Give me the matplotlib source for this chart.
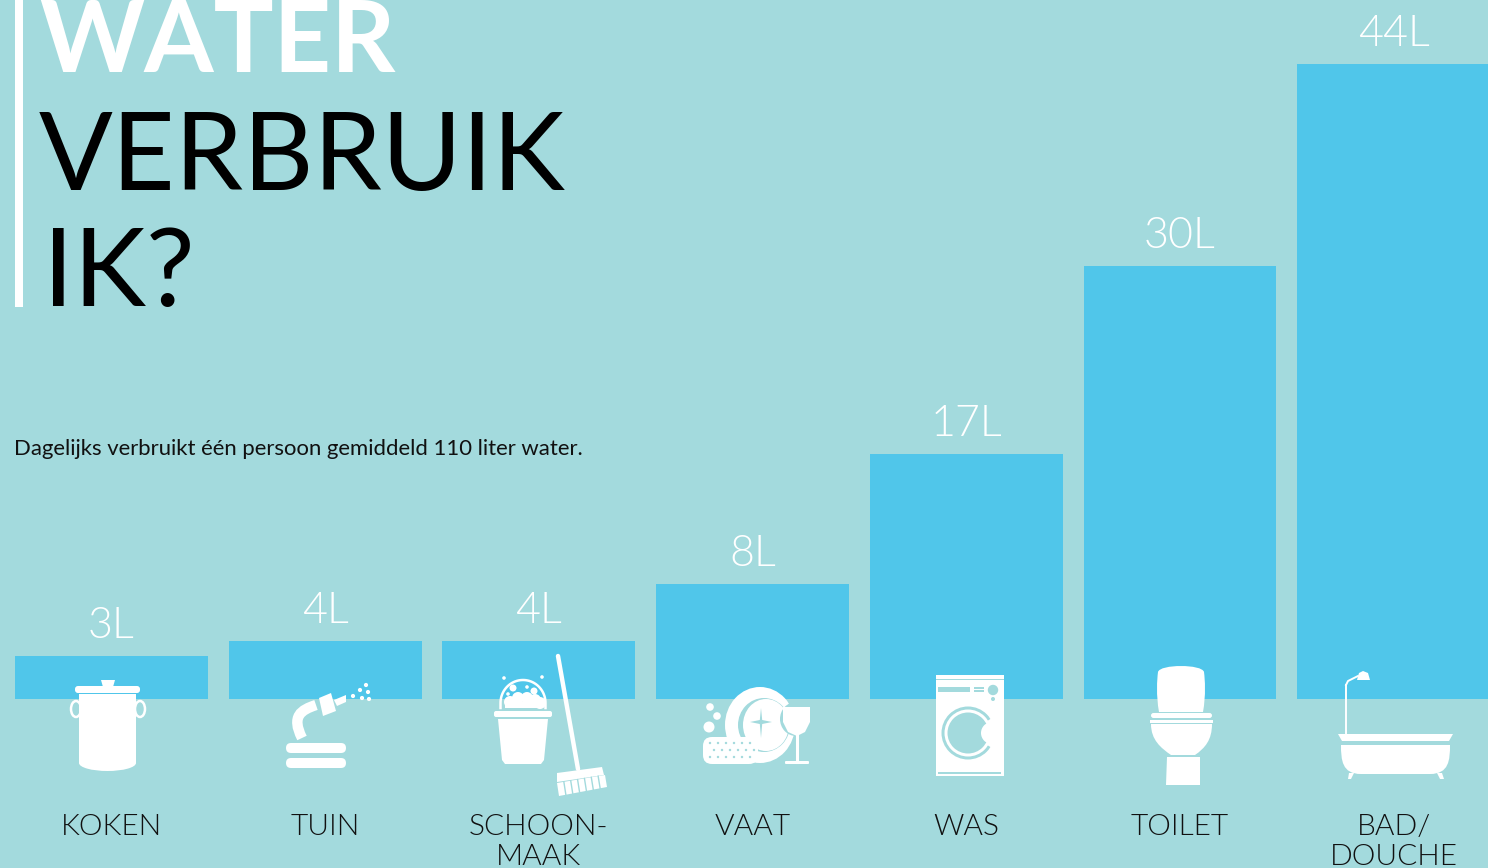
import numpy as np
from matplotlib import pyplot as plt
from matplotlib.patches import Ellipse, FancyBboxPatch, Polygon, Rectangle, Wedge, PathPatch
from matplotlib.path import Path

categories = ['KOKEN', 'TUIN', 'SCHOON-\nMAAK', 'VAAT', 'WAS', 'TOILET', 'BAD/\nDOUCHE']
litres = [3, 4, 4, 8, 17, 30, 44]
title_lines = ['WATER', 'VERBRUIK', 'IK?']
subtitle = 'Dagelijks verbruikt één persoon gemiddeld 110 liter water.'

BG = '#a3dadd'
BAR = '#50c6ea'
W = '#ffffff'

plt.rcParams['font.family'] = ['Lato', 'DejaVu Sans']

fig = plt.figure(figsize=(14.88, 8.68), dpi=100, facecolor=BG)

# bars, in litres. 213.7 px per category, 14.43 px per litre, baseline at y=699
ax = fig.add_axes([0, 0, 1, 1])
ax.set_xlim(-111.5 / 213.7, (1488 - 111.5) / 213.7)
ax.set_ylim(-169 / 14.43, 699 / 14.43)
ax.axis('off')
x = np.arange(len(categories))
bars = ax.bar(x, litres, width=0.903, color=BAR, linewidth=0)
for xi, v in zip(x, litres):
    ax.annotate(f'{v}L', (xi, v), xytext=(0, 13), textcoords='offset points', ha='center',
                va='baseline', color=W, fontsize=31, fontweight=300)
for xi, c in zip(x, categories):
    ax.annotate(c, (xi, 0), xytext=(0, -83), textcoords='offset points', ha='center', va='top',
                color='#111111', fontsize=21.5, fontweight=300, linespacing=1.16)

# overlay in image pixels for the title and the icons
ov = fig.add_axes([0, 0, 1, 1])
ov.set_xlim(0, 1488)
ov.set_ylim(868, 0)
ov.axis('off')
ov.patch.set_alpha(0)

ov.add_patch(Rectangle((15, 0), 8, 307, color=W, lw=0))
ov.text(39, 72, title_lines[0], color=W, fontsize=72, fontweight=700, va='baseline')
ov.text(39, 190, title_lines[1], color='black', fontsize=78.5, fontweight=400, va='baseline')
ov.text(43, 306, title_lines[2], color='black', fontsize=78.5, fontweight=400, va='baseline')
ov.text(14, 455, subtitle, color='#111111', fontsize=15.9, va='baseline')


def rbox(x0, y0, x1, y1, r, c=W):
    ov.add_patch(FancyBboxPatch((x0 + r, y0 + r), x1 - x0 - 2 * r, y1 - y0 - 2 * r,
                                boxstyle=f'round,pad={r},rounding_size={r}', fc=c, ec='none'))


def poly(pts, c=W):
    ov.add_patch(Polygon(pts, closed=True, fc=c, ec='none'))


def ell(cx, cy, rx, ry, c=W):
    ov.add_patch(Ellipse((cx, cy), 2 * rx, 2 * ry, fc=c, ec='none'))


def ring(cx, cy, rx, ry, lw, c=W):
    ov.add_patch(Ellipse((cx, cy), 2 * rx, 2 * ry, fc='none', ec=c, lw=lw))


def dots(pts, r, c=W):
    for px, py in pts:
        ell(px, py, r, r, c)


def curve(verts, codes, c=W):
    ov.add_patch(PathPatch(Path(verts, codes), fc=c, ec='none'))


M, L, C = Path.MOVETO, Path.LINETO, Path.CURVE4

# pot
ring(76, 709, 5, 8, 1.8)
ring(140, 709, 5, 8, 1.8)
poly([(101, 680), (115, 680), (113, 687), (103, 687)])
rbox(75, 686, 140, 693, 3)
ell(107.5, 763, 28.5, 8)
ov.add_patch(Rectangle((79, 694), 57, 69, fc=W, ec='none'))

# hose
rbox(286, 743, 346, 753, 5)
rbox(286, 758, 346, 768, 5)
ov.add_patch(PathPatch(Path([(302, 738), (291, 716), (301, 710), (316, 705)], [M, C, C, C]),
                       fc='none', ec=W, lw=7.5, capstyle='butt'))
poly([(319, 698), (331, 693), (336, 711), (323, 716)])
poly([(334, 700), (346, 695), (346, 702), (337, 706)])
dots([(353, 696), (360, 690), (366, 685), (368, 692), (362, 698), (369, 699)], 2.1)

# bucket and broom
t = np.linspace(np.pi, 2 * np.pi, 40)
ov.plot(np.r_[500.5, 523 + 22.5 * np.cos(t), 545.5], np.r_[708, 703 + 23 * np.sin(t), 708], color=W, lw=1.8)
dots([(510, 702), (518, 698), (527, 698), (535, 700), (540, 703)], 6)
ov.add_patch(Rectangle((505, 702), 36, 6, fc=W, ec='none'))
dots([(513, 688), (534, 691)], 3.5)
dots([(527, 687), (508, 694), (504, 678), (542, 677)], 1.8)
rbox(494, 711, 552, 717, 2)
poly([(498, 719), (548, 719), (544, 760), (541, 764), (505, 764), (502, 760)])
ov.plot([558, 578], [656, 769], color=W, lw=3.2, solid_capstyle='round')
poly([(557, 773), (602, 767), (604, 775), (557, 782)])
poly([(557, 783), (605, 775), (607, 787), (559, 796)])
for k in np.arange(1, 7):
    f = k / 7
    ov.plot([557 + 48 * f, 559 + 48 * f], [783 - 8 * f, 796 - 9 * f], color=BG, lw=1)

# dishes
ell(760, 725, 35, 38)
ell(764, 725, 26, 27, BG)
ell(766, 725, 23, 26)
poly([(761, 708), (762.2, 720), (772, 722), (762.2, 724), (761, 738), (759.8, 724), (750, 722), (759.8, 720)], BG)
rbox(703, 737, 758, 764, 9)
for row, dy in enumerate((743, 750, 757)):
    dots([(710 + (row % 2) * 4 + 8 * k, dy) for k in range(6)], 1.2, BG)
dots([(710, 707), (717, 716)], 3.8)
ell(709, 727, 5.5, 5.5)
ell(796, 719, 16, 17, BG)
poly([(783, 707), (810, 707), (810, 722), (805, 732), (797, 736), (788, 732), (783, 722)])
ov.plot([797, 797], [735, 762], color=W, lw=2.2)
rbox(785, 761, 809, 764, 1)

# washing machine
ov.add_patch(Rectangle((936, 675), 68, 101, fc=W, ec='none'))
ov.add_patch(Rectangle((936, 678.5), 68, 1.5, fc=BG, ec='none'))
ov.add_patch(Rectangle((938, 687), 32, 5, fc=BG, ec='none'))
ov.add_patch(Rectangle((974, 687), 10, 2, fc=BG, ec='none'))
ov.add_patch(Rectangle((974, 690), 10, 2, fc=BG, ec='none'))
ell(993, 690, 5.2, 5.2, BG)
ell(993, 699, 2, 2, BG)
ell(968, 733, 26.5, 26.5, BG)
ov.add_patch(Wedge((968, 733), 29, -32, 32, fc=W, ec='none'))
ell(968, 733, 23.5, 23.5)
ell(968, 733, 20.5, 20.5, BG)
ell(992, 733, 11, 11)
ov.add_patch(Rectangle((938, 772), 63, 2.4, fc=BG, ec='none'))

# toilet
curve([(1159, 712), (1156, 695), (1157, 680), (1158, 672), (1160, 664), (1202, 664), (1204, 672),
       (1205, 680), (1206, 695), (1203, 712), (1159, 712)], [M, C, C, C, C, C, C, C, C, C, L])
rbox(1151, 713, 1212, 718, 2.5)
ov.add_patch(Rectangle((1150, 720), 63, 2.5, fc=W, ec='none'))
curve([(1151, 724), (1212, 724), (1212, 740), (1205, 748), (1195, 755), (1171, 755), (1161, 748),
       (1151, 740), (1151, 724)], [M, L, C, C, C, L, C, C, C])
poly([(1167, 757), (1200, 757), (1200, 785), (1166, 785)])

# bath
poly([(1338, 734), (1453, 734), (1449, 741), (1342, 741)])
curve([(1341, 745), (1450, 745), (1450, 760), (1449, 774), (1430, 774), (1361, 774), (1342, 774),
       (1341, 760), (1341, 745)], [M, L, C, C, C, L, C, C, C])
poly([(1349, 773), (1354, 773), (1351, 779), (1348, 779)])
poly([(1437, 773), (1442, 773), (1444, 779), (1440, 779)])
ov.plot([1346, 1346], [733, 685], color=W, lw=1.4)
ov.plot([1346, 1348, 1358], [685, 681, 676], color=W, lw=1.4)
poly([(1357, 680), (1359, 673), (1363, 671), (1368, 673), (1370, 680)])

fig.savefig('out.png', dpi=100, facecolor=BG)
